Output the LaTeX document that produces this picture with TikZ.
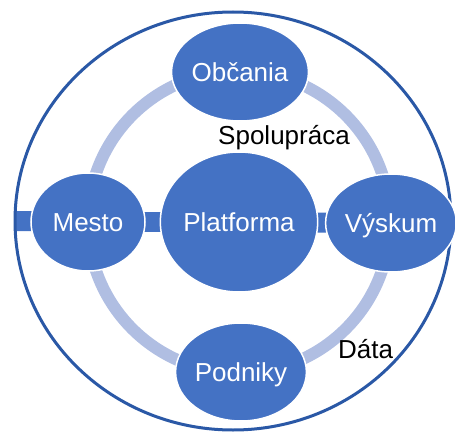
\documentclass[tikz,border=0pt]{standalone}
\usepackage{fontspec}
\setmainfont{Liberation Sans}
\usetikzlibrary{shapes.geometric,backgrounds}
\definecolor{hubblue}{RGB}{68,114,196}
\definecolor{rimblue}{RGB}{42,88,166}
\definecolor{ringblue}{RGB}{176,190,226}
\tikzset{
  hub/.style={ellipse, fill=hubblue, draw=white, line width=1.5pt, inner sep=0pt,
    text=white, font=\fontsize{26}{26}\selectfont, text height=19pt, text depth=0pt},
  satellite/.style={hub, minimum width=114pt, minimum height=98pt},
  core/.style={hub, minimum width=142pt, minimum height=140pt},
  rim/.style={ellipse, draw=rimblue, line width=3pt, inner sep=0pt, outer sep=0pt,
    minimum width=436pt, minimum height=418pt},
  bar/.style={draw=hubblue, line width=20pt},
  ringline/.style={draw=ringblue, line width=12pt},
  caption/.style={text=black, font=\fontsize{26}{26}\selectfont, anchor=base, inner sep=0pt}
}
\begin{document}
\begin{tikzpicture}[x=1pt,y=-1pt]
  \useasboundingbox (0,0) rectangle (455,436);
  % outer boundary
  \node[rim] (outer) at (233,221) {};
  % hubs
  \node[core] (pf) at (239,222) {Platforma};
  \node[satellite] (ob) at (240,72) {Občania};
  \node[satellite] (po) at (241,372) {Podniky};
  \node[satellite] (me) at (88,222) {Mesto};
  \node[satellite] (vy) at (391,223) {Výskum};
  % labels
  \node[caption] (spol) at (284,144) {Spolupráca};
  \node[caption] (data) at (365.5,358) {Dáta};
  % ring and bars behind the hubs
  \begin{scope}[on background layer]
    \draw[ringline] (pf.center) circle[radius=151pt];
    \draw[bar] (outer.west) -- (me.center);
    \draw[bar] (me.center) -- (pf.center);
    \draw[bar] (pf.center) -- (vy.center);
    \draw[bar] (vy.center) -- (outer.east);
  \end{scope}
\end{tikzpicture}
\end{document}
